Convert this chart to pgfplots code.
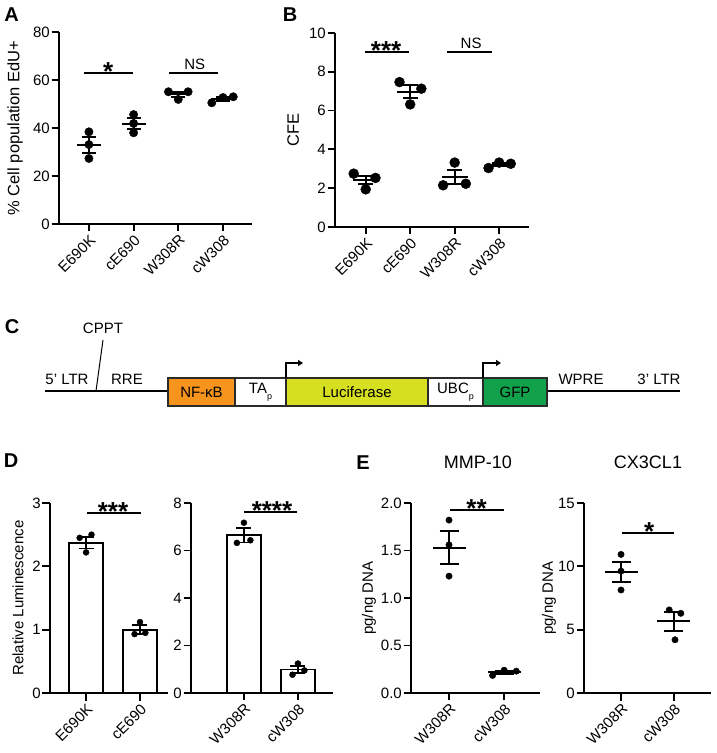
\documentclass[border=0pt]{standalone}
\usepackage{fontspec}
\setmainfont{Liberation Sans}
\usepackage{pgfplots}
\pgfplotsset{compat=1.18}
\usetikzlibrary{arrows.meta}
\definecolor{nfkb}{HTML}{F7941E}
\definecolor{luc}{HTML}{D7DF21}
\definecolor{gfp}{HTML}{12A14B}
\definecolor{boxline}{HTML}{2B2B2B}
\newcommand{\starfont}{\fontsize{26}{28}\selectfont\bfseries}
\pgfplotsset{
  gp/.style={
    scale only axis, clip=false, anchor=south west,
    axis lines=left,
    axis line style={-, line width=1.8pt, black},
    tick style={line width=1.8pt, black},
    tick align=outside, major tick length=7.5pt,
    /pgf/number format/assume math mode=true,
    tick label style={font=\fontsize{15}{17}\selectfont},
    yticklabel style={inner sep=1.5pt},
    xticklabel style={rotate=45, anchor=north east, inner sep=1.5pt},
    label style={font=\fontsize{16}{18}\selectfont},
    scaled ticks=false,
  },
  dots/.style={only marks, mark=*, mark size=#1, black, mark options={fill=black, draw=black}},
  meanm/.style={only marks, mark=-, mark size=#1, black, mark options={line width=2pt}},
  sem/.style={error bars/.cd, y dir=both, y explicit, error mark=-,
    error mark options={rotate=90, mark size=#1, line width=2pt, black},
    error bar style={line width=2pt, black}},
  sigline/.style={black, line width=2pt},
}
\begin{document}
\begin{tikzpicture}[x=1pt,y=1pt]
\useasboundingbox (0,0) rectangle (716,753);

% ---------------- A ----------------
\node[font=\fontsize{20}{22}\selectfont\bfseries] at (11.5,738) {A};
\begin{axis}[gp, at={(59pt,529pt)}, width=193pt, height=192pt,
  xmin=-0.67, xmax=3.65, ymin=0, ymax=80, ytick={0,20,40,60,80},
  xtick={0,1,2,3}, xticklabels={E690K,cE690,W308R,cW308},
  ylabel={\% Cell population EdU+},
  ylabel style={at={(axis description cs:-0.228,0.5)}, anchor=center, font=\fontsize{16.5}{18}\selectfont}]
\addplot[dots=4.2pt] coordinates {(0,38.4) (0,33.1) (0,27.3) (1,45.6) (1,41.9) (1,38.0)
  (1.78,55.1) (2.22,55.1) (2,51.9) (2.75,50.5) (3,52.7) (3.23,53.0)};
\addplot[meanm=12pt, sem=7pt] coordinates {(0,32.9) +- (0,3.2) (1,41.8) +- (0,2.2)
  (2,54.0) +- (0,1.1) (3,52.1) +- (0,0.8)};
\addplot[sigline] coordinates {(-0.11,63) (0.98,63)};
\addplot[sigline] coordinates {(1.79,63) (2.89,63)};
\node[font=\starfont, anchor=base, yshift=-7.5pt] at (axis cs:0.43,63) {*};
\node[font=\fontsize{15}{17}\selectfont, anchor=south, inner sep=0pt, yshift=3pt] at (axis cs:2.37,63) {NS};
\end{axis}

% ---------------- B ----------------
\node[font=\fontsize{20}{22}\selectfont\bfseries] at (290,738) {B};
\begin{axis}[gp, at={(335pt,526pt)}, width=194pt, height=194pt,
  xmin=-0.69, xmax=3.67, ymin=0, ymax=10, ytick={0,2,4,6,8,10},
  xtick={0,1,2,3}, xticklabels={E690K,cE690,W308R,cW308},
  ylabel={CFE},
  ylabel style={at={(axis description cs:-0.216,0.5)}, anchor=center, font=\fontsize{16.5}{18}\selectfont}]
\addplot[dots=5pt] coordinates {(-0.27,2.75) (0.22,2.53) (0,1.94)
  (0.76,7.47) (1.25,7.13) (1,6.32)
  (2,3.32) (1.74,2.15) (2.25,2.23)
  (2.76,3.04) (3,3.32) (3.26,3.26)};
\addplot[meanm=13pt, sem=7.5pt] coordinates {(0,2.41) +- (0,0.21) (1,6.97) +- (0,0.33)
  (2,2.57) +- (0,0.36) (3,3.21) +- (0,0.08)};
\addplot[sigline] coordinates {(-0.02,9.02) (0.98,9.02)};
\addplot[sigline] coordinates {(1.83,9.02) (2.83,9.02)};
\node[font=\starfont, anchor=base, yshift=-7.5pt] at (axis cs:0.46,9.02) {***};
\node[font=\fontsize{15}{17}\selectfont, anchor=south, inner sep=0pt, yshift=3pt] at (axis cs:2.37,9.02) {NS};
\end{axis}

% ---------------- C ----------------
\node[font=\fontsize{20}{22}\selectfont\bfseries] at (12,426) {C};
\begin{scope}[font=\fontsize{15}{17}\selectfont]
\draw[line width=1.8pt, black] (45,362) -- (680,362);
\draw[line width=1pt, black] (96,362) -- (103,413);
\node at (103,425) {CPPT};
\node at (67,374) {5’ LTR};
\node at (127,374) {RRE};
\node at (581,374) {WPRE};
\node at (659,374) {3’ LTR};
\draw[boxline, line width=1.8pt, fill=nfkb] (168,347) rectangle (235,375);
\draw[boxline, line width=1.8pt, fill=white] (235,347) rectangle (286,375);
\draw[boxline, line width=1.8pt, fill=luc] (286,347) rectangle (428,375);
\draw[boxline, line width=1.8pt, fill=white] (428,347) rectangle (483,375);
\draw[boxline, line width=1.8pt, fill=gfp] (483,347) rectangle (547,375);
\node at (201.5,361) {NF-κB};
\node at (260.5,361) {TA\raisebox{-0.4em}{\fontsize{9}{9}\selectfont p}};
\node at (357,361) {Luciferase};
\node at (455.5,361) {UBC\raisebox{-0.4em}{\fontsize{9}{9}\selectfont p}};
\node at (515,361) {GFP};
\draw[line width=1.6pt, -{Triangle[length=5pt,width=6pt]}] (286,375) -- (286,390) -- (303,390);
\draw[line width=1.6pt, -{Triangle[length=5pt,width=6pt]}] (483,375) -- (483,390) -- (501,390);
\end{scope}

% ---------------- D ----------------
\node[font=\fontsize{20}{22}\selectfont\bfseries] at (11,292) {D};
\begin{axis}[gp, at={(50pt,60pt)}, width=118pt, height=190pt,
  xmin=-0.67, xmax=1.52, ymin=0, ymax=3, ytick={0,1,2,3},
  xtick={0,1}, xticklabels={E690K,cE690},
  ylabel={Relative Luminescence},
  ylabel style={at={(axis description cs:-0.271,0.5)}, anchor=center, font=\fontsize{15}{17}\selectfont}]
\addplot[ybar, bar width=34pt, fill=white, draw=black, line width=1.8pt,
  error bars/.cd, y dir=both, y explicit, error mark=-,
  error mark options={rotate=90, mark size=7.5pt, line width=1.8pt, black},
  error bar style={line width=1.8pt, black}]
  coordinates {(0,2.37) +- (0,0.09) (1,1.0) +- (0,0.07)};
\addplot[dots=3pt] coordinates {(-0.12,2.45) (0.1,2.5) (0,2.22) (1,1.12) (0.9,0.93) (1.1,0.95)};
\addplot[sigline] coordinates {(0.02,2.84) (1.02,2.84)};
\node[font=\starfont, anchor=base, yshift=-7.5pt] at (axis cs:0.5,2.84) {***};
\end{axis}
\begin{axis}[gp, at={(191pt,60pt)}, width=142pt, height=190pt,
  xmin=-0.98, xmax=1.65, ymin=0, ymax=8, ytick={0,2,4,6,8},
  xtick={0,1}, xticklabels={W308R,cW308}]
\addplot[ybar, bar width=34pt, fill=white, draw=black, line width=1.8pt,
  error bars/.cd, y dir=both, y explicit, error mark=-,
  error mark options={rotate=90, mark size=7.5pt, line width=1.8pt, black},
  error bar style={line width=1.8pt, black}]
  coordinates {(0,6.64) +- (0,0.3) (1,0.99) +- (0,0.14)};
\addplot[dots=3pt] coordinates {(0,7.17) (-0.13,6.32) (0.12,6.43) (1,1.24) (0.9,0.77) (1.12,0.95)};
\addplot[sigline] coordinates {(0.01,7.62) (0.99,7.62)};
\node[font=\starfont, anchor=base, yshift=-7.5pt] at (axis cs:0.52,7.62) {****};
\end{axis}

% ---------------- E ----------------
\node[font=\fontsize{20}{22}\selectfont\bfseries] at (363,290) {E};
\node[font=\fontsize{18}{20}\selectfont] at (478,291) {MMP-10};
\node[font=\fontsize{18}{20}\selectfont] at (648,291) {CX3CL1};
\begin{axis}[gp, at={(411pt,60pt)}, width=129pt, height=190pt,
  xmin=-0.69, xmax=1.65, ymin=0, ymax=2, ytick={0,0.5,1,1.5,2},
  y tick label style={/pgf/number format/.cd, fixed, fixed zerofill, precision=1},
  xtick={0,1}, xticklabels={W308R,cW308},
  ylabel={pg/ng DNA},
  ylabel style={at={(axis description cs:-0.326,0.5)}, anchor=center, font=\fontsize{15}{17}\selectfont}]
\addplot[dots=3.2pt] coordinates {(0,1.82) (0,1.56) (0,1.23) (0.79,0.185) (1,0.24) (1.22,0.23)};
\addplot[meanm=16.5pt, sem=9.5pt] coordinates {(0,1.53) +- (0,0.17) (1,0.217) +- (0,0.015)};
\addplot[sigline] coordinates {(0.02,1.93) (1.0,1.93)};
\node[font=\starfont, anchor=base, yshift=-7.5pt] at (axis cs:0.5,1.93) {**};
\end{axis}
\begin{axis}[gp, at={(584pt,60pt)}, width=127pt, height=190pt,
  xmin=-0.7, xmax=1.7, ymin=0, ymax=15, ytick={0,5,10,15},
  xtick={0,1}, xticklabels={W308R,cW308},
  ylabel={pg/ng DNA},
  ylabel style={at={(axis description cs:-0.276,0.5)}, anchor=center, font=\fontsize{15}{17}\selectfont}]
\addplot[dots=3.2pt] coordinates {(0,10.94) (0,9.62) (0,8.13) (0.91,6.56) (1.13,6.29) (1.02,4.2)};
\addplot[meanm=16.5pt, sem=9.5pt] coordinates {(0,9.55) +- (0,0.82) (1,5.66) +- (0,0.75)};
\addplot[sigline] coordinates {(0.02,12.6) (1.0,12.6)};
\node[font=\starfont, anchor=base, yshift=-7.5pt] at (axis cs:0.53,12.6) {*};
\end{axis}
\end{tikzpicture}
\end{document}
